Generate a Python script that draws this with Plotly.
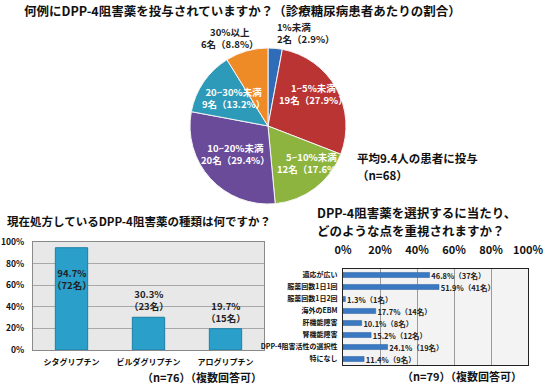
import plotly.graph_objects as go

W, H = 550, 385
FONT = "Noto Sans CJK JP"

# ---------------- data ----------------
pie_labels = ["1%未満", "1~5%未満", "5~10%未満", "10~20%未満", "20~30%未満", "30%以上"]
pie_counts = [2, 19, 12, 20, 9, 6]
pie_pcts = [2.9, 27.9, 17.6, 29.4, 13.2, 8.8]
pie_colors = ["#2F6DB8", "#B93433", "#8DB43E", "#6A4B9A", "#2D9ABA", "#EE8B26"]

drug_names = ["シタグリプチン", "ビルダグリプチン", "アログリプチン"]
drug_pcts = [94.7, 30.3, 19.7]
drug_counts = [72, 23, 15]

reason_labels = ["適応が広い", "服薬回数1日1回", "服薬回数1日2回", "海外のEBM",
                 "肝機能障害", "腎機能障害", "DPP-4阻害活性の選択性", "特になし"]
reason_pcts = [46.8, 51.9, 1.3, 17.7, 10.1, 15.2, 24.1, 11.4]
reason_counts = [37, 41, 1, 14, 8, 12, 19, 9]

pct_ticks = [0, 20, 40, 60, 80, 100]


def px(x):
    return x / W


def py(y):
    return 1 - y / H


fig = go.Figure()

# ---------------- pie ----------------
fig.add_trace(go.Pie(
    labels=pie_labels, values=pie_counts, sort=False, direction="clockwise",
    rotation=0, marker=dict(colors=pie_colors, line=dict(color="#F4F4F4", width=1)),
    textinfo="none", hoverinfo="label+value", showlegend=False, automargin=False,
    domain=dict(x=[px(190), px(346)], y=[py(204), py(48)]),
))

# pie label placement (layout only)
pie_label_pos = [
    (275, 33.5, "left", "#222222"),
    (313, 93.5, "center", "white"),
    (311, 162.5, "center", "white"),
    (235, 153.5, "center", "white"),
    (233, 98.5, "center", "white"),
    (230, 38, "center", "#222222"),
]

annotations = []
for lab, cnt, pct, (x, y, al, col) in zip(pie_labels, pie_counts, pie_pcts, pie_label_pos):
    annotations.append(dict(
        x=px(x), y=py(y), xref="paper", yref="paper",
        xanchor="left" if al == "left" else "center", yanchor="middle", align=al,
        text=f"{lab}<br>{cnt}名（{pct}%）", showarrow=False,
        font=dict(family=FONT, size=9.5, color=col, weight="bold")))

# ---------------- left bar chart ----------------
fig.add_trace(go.Bar(
    x=drug_names, y=drug_pcts, xaxis="x", yaxis="y",
    marker=dict(color="#2A9FC9", line=dict(color="#1C7FA6", width=1)),
    showlegend=False, hoverinfo="x+y",
))

for i, (name, v, c) in enumerate(zip(drug_names, drug_pcts, drug_counts)):
    inside = v > 50
    annotations.append(dict(
        x=name, y=v, xref="x", yref="y", showarrow=False,
        yanchor="top" if inside else "bottom", yshift=-16 if inside else 2,
        text=f"{v}%<br>（{c}名）", align="center",
        font=dict(family=FONT, size=9.5, color="#222222", weight="bold")))

# ---------------- right bar chart ----------------
fig.add_trace(go.Bar(
    y=reason_labels, x=reason_pcts, orientation="h", xaxis="x2", yaxis="y2",
    customdata=reason_counts,
    marker=dict(color="#3B78C2", line=dict(color="#2A5E9E", width=0.5)),
    texttemplate=" %{x}%（%{customdata}名）", textposition="outside",
    constraintext="none", cliponaxis=False,
    textfont=dict(family=FONT, size=7.5, color="#222222", weight="bold"),
    showlegend=False, hoverinfo="y+x",
))

# ---------------- texts ----------------
def txt(x, y, s, size, anchor="left"):
    annotations.append(dict(
        x=px(x), y=py(y), xref="paper", yref="paper", xanchor=anchor, yanchor="middle",
        text=s, showarrow=False, align="left",
        font=dict(family=FONT, size=size, color="#111111", weight="bold")))


txt(22, 10, "何例にDPP-4阻害薬を投与されていますか？（診療糖尿病患者あたりの割合）", 12.5)
txt(355, 158, "平均9.4人の患者に投与", 11.5)
txt(355, 175, "（n=68）", 11.5)
txt(5, 221, "現在処方しているDPP-4阻害薬の種類は何ですか？", 11.5)
txt(315, 213, "DPP-4阻害薬を選択するに当たり、", 12.5)
txt(315, 230, "どのような点を重視されますか？", 12.5)
txt(140, 377, "（n=76）（複数回答可）", 11)
txt(400, 376, "（n=79）（複数回答可）", 11)

fig.update_layout(
    template="none",
    width=W, height=H, margin=dict(l=0, r=0, t=0, b=0, pad=0),
    paper_bgcolor="white", plot_bgcolor="#E8E8E8",
    bargap=0.58, annotations=annotations, showlegend=False,
    font=dict(family=FONT, color="#111111"),
    xaxis=dict(domain=[px(33), px(264)], showgrid=False, showline=True, mirror=True,
               linecolor="#8A8A8A", linewidth=1, ticks="", ticklabelstandoff=4,
               automargin=False,
               tickfont=dict(family=FONT, size=8, color="#111111", weight="bold"),
               fixedrange=True),
    yaxis=dict(domain=[py(350), py(242)], range=[0, 100], tickvals=pct_ticks,
               ticktext=[f"{t}%" for t in pct_ticks], showgrid=True, gridcolor="#A8A8A8",
               gridwidth=1, showline=True, mirror=True, linecolor="#8A8A8A", linewidth=1,
               zeroline=False, ticks="", ticklabelstandoff=6, automargin=False,
               tickfont=dict(family=FONT, size=8.5, color="#111111", weight="bold"),
               fixedrange=True),
    xaxis2=dict(domain=[px(343), px(528)], anchor="y2", side="top", range=[0, 100],
                tickvals=pct_ticks, ticktext=[f"{t}%" for t in pct_ticks],
                showgrid=True, gridcolor="#9A9A9A", gridwidth=1, showline=True, mirror=True,
                linecolor="#222222", linewidth=1, zeroline=False, ticks="",
                ticklabelstandoff=10, automargin=False,
                tickfont=dict(family=FONT, size=11, color="#111111", weight="bold"),
                fixedrange=True),
    yaxis2=dict(domain=[py(365), py(269)], anchor="x2", autorange="reversed",
                showline=True, mirror=True, linecolor="#222222", linewidth=1,
                showgrid=False, ticks="", ticklabelstandoff=3, automargin=False,
                tickfont=dict(family=FONT, size=7, color="#111111", weight="bold"),
                fixedrange=True),
)

# right plot background (paper-level rectangle behind the second plot)
fig.add_shape(type="rect", xref="paper", yref="paper", x0=px(343), x1=px(528),
              y0=py(365), y1=py(269), fillcolor="#F3F3F3", line=dict(width=0),
              layer="below")

fig.write_html("out.html", config={"displayModeBar": False},
               post_script="document.body.style.margin='0';document.body.style.padding='0';")
